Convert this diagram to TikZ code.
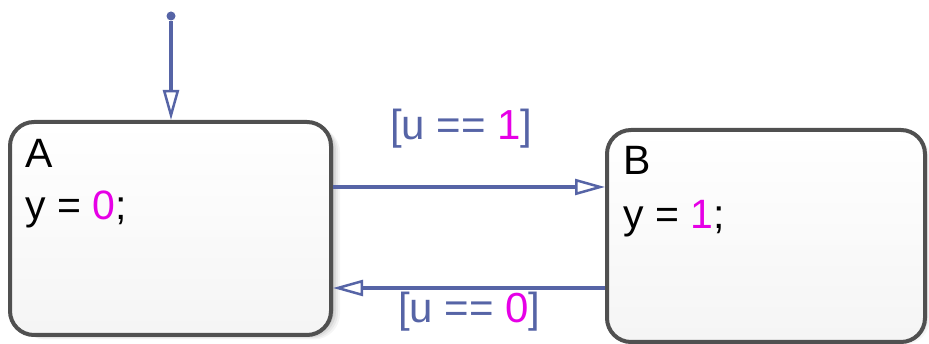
\documentclass[tikz,border=0pt]{standalone}
\usepackage{fontspec}
\setmainfont{Liberation Sans}
\usetikzlibrary{arrows.meta}
\definecolor{trans}{RGB}{86,100,166}
\definecolor{mag}{RGB}{230,0,230}
\definecolor{stborder}{RGB}{80,80,80}
\tikzset{
  statebox/.style={draw=stborder,line width=4pt,rounded corners=24pt,top color=white,bottom color=black!4,inner sep=0pt},
  shadowbox/.style={fill=black,fill opacity=#1,rounded corners=26pt,draw=none,inner sep=0pt},
  txt/.style={anchor=base west,inner sep=0pt,font=\fontsize{41}{48}\selectfont},
  lbl/.style={anchor=base west,inner sep=0pt,text=trans,font=\fontsize{42}{50}\selectfont},
  transline/.style={draw=trans,line width=3.5pt,-{Triangle[open,length=30pt,width=16pt,line width=2.5pt]}},
}
\begin{document}
\begin{tikzpicture}[x=1pt,y=-1pt]
\useasboundingbox (0,0) rectangle (929,344);
% shadows
\foreach \d/\o in {9/0.04,7/0.05,5/0.07,3/0.09}{
  \node[shadowbox=\o,minimum width=321pt,minimum height=213pt] at (170.5+\d,228.5+\d*0.5) {};
}
\foreach \d/\o in {5/0.04,3/0.06}{
  \node[shadowbox=\o,minimum width=318pt,minimum height=212pt] at (766+\d,236+\d*0.5) {};
}
\node[statebox,minimum width=321pt,minimum height=213pt] (A) at (170.5,228.5) {};
\node[statebox,minimum width=318pt,minimum height=212pt] (B) at (766,236) {};
% texts
\node[txt] (Aname) at (25,168) {A};
\node[txt] (Aact) at (25,220) {y = \textcolor{mag}{0};};
\node[txt] (Bname) at (623,175) {B};
\node[txt] (Bact) at (623,229) {y = \textcolor{mag}{1};};
% default transition
\node[circle,fill=trans,inner sep=0pt,minimum size=9pt] (dot) at (171,16) {};
\draw[transline] (dot) -- (dot |- A.north);
% transitions
\draw[transline] ([yshift=41.5pt]A.east) -- ([yshift=49pt]B.west);
\draw[transline] ([yshift=-52pt]B.west) -- ([yshift=-59.5pt]A.east);
\node[lbl] (l1) at (390,140) {[u == \textcolor{mag}{1}]};
\node[lbl] (l0) at (398,323) {[u == \textcolor{mag}{0}]};
\end{tikzpicture}
\end{document}
